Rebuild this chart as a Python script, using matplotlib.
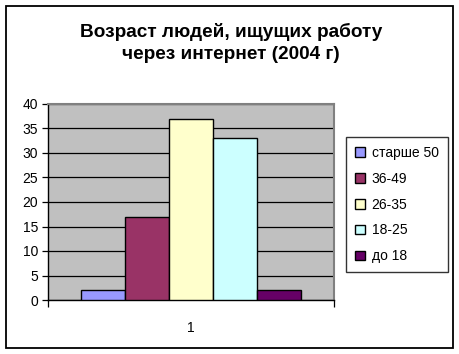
import matplotlib
matplotlib.use("Agg")
import matplotlib.pyplot as plt
from matplotlib.patches import Rectangle

plt.rcParams['font.family'] = ['Liberation Sans', 'DejaVu Sans']

title = "Возраст людей, ищущих работу\nчерез интернет (2004 г)"
series = ["старше 50", "36-49", "26-35", "18-25", "до 18"]
values = [2, 17, 37, 33, 2]
colors = ["#9999FF", "#993366", "#FFFFCC", "#CCFFFF", "#660066"]
category = ["1"]
yticks = [0, 5, 10, 15, 20, 25, 30, 35, 40]

W, H = 459, 354
fig = plt.figure(figsize=(W / 100, H / 100), dpi=100)
fig.patch.set_facecolor("white")

# figure frame
fig.patches.append(Rectangle((5.5 / W, (H - 347.5) / H), 447 / W, 342 / H,
                             transform=fig.transFigure, fill=False,
                             edgecolor="black", linewidth=1.3))

ax = fig.add_axes([48 / W, (H - 300) / H, (334 - 48) / W, (300 - 104) / H])
ax.set_facecolor("#C0C0C0")

n = len(series)
group = 0.77
bw = group / n
for i, (name, v, c) in enumerate(zip(series, values, colors)):
    x = 1 - group / 2 + bw * (i + 0.5)
    ax.bar(x, v, width=bw, color=c, edgecolor="black", linewidth=1.0,
           label=name, zorder=3)

ax.set_xlim(0.5, 1.5)
ax.set_ylim(0, 40)
ax.set_yticks(yticks)
ax.yaxis.grid(True, color="black", linewidth=0.9, zorder=1)
ax.set_axisbelow(True)
ax.tick_params(axis="y", direction="out", length=4, width=0.9, pad=3,
               labelsize=10)

ax.set_xticks([0.5, 1.5])
ax.set_xticklabels(["", ""])
ax.tick_params(axis="x", which="major", direction="out", length=5, width=0.9)
ax.set_xticks([1], minor=True)
ax.set_xticklabels(category, minor=True)
ax.tick_params(axis="x", which="minor", length=0, pad=15, labelsize=10)

for s in ["left", "bottom"]:
    ax.spines[s].set_color("black")
    ax.spines[s].set_linewidth(1.0)
for s in ["top", "right"]:
    ax.spines[s].set_color("#808080")
    ax.spines[s].set_linewidth(1.5)

fig.text(231 / W, 1 - 43 / H, title, ha="center", va="center",
         fontsize=13.7, fontweight="bold", linespacing=1.45)

leg = fig.legend(loc="upper left", bbox_to_anchor=(346 / W, 1 - 137 / H),
                 bbox_transform=fig.transFigure, frameon=True, fancybox=False,
                 edgecolor="black", fontsize=10, handlelength=0.7,
                 handleheight=0.7, handletextpad=0.5, labelspacing=0.85,
                 borderpad=0.65, borderaxespad=0)
leg.get_frame().set_linewidth(1.0)
for h in leg.legend_handles:
    h.set_edgecolor("black")
    h.set_linewidth(1.0)

fig.savefig("out.png", dpi=100)
